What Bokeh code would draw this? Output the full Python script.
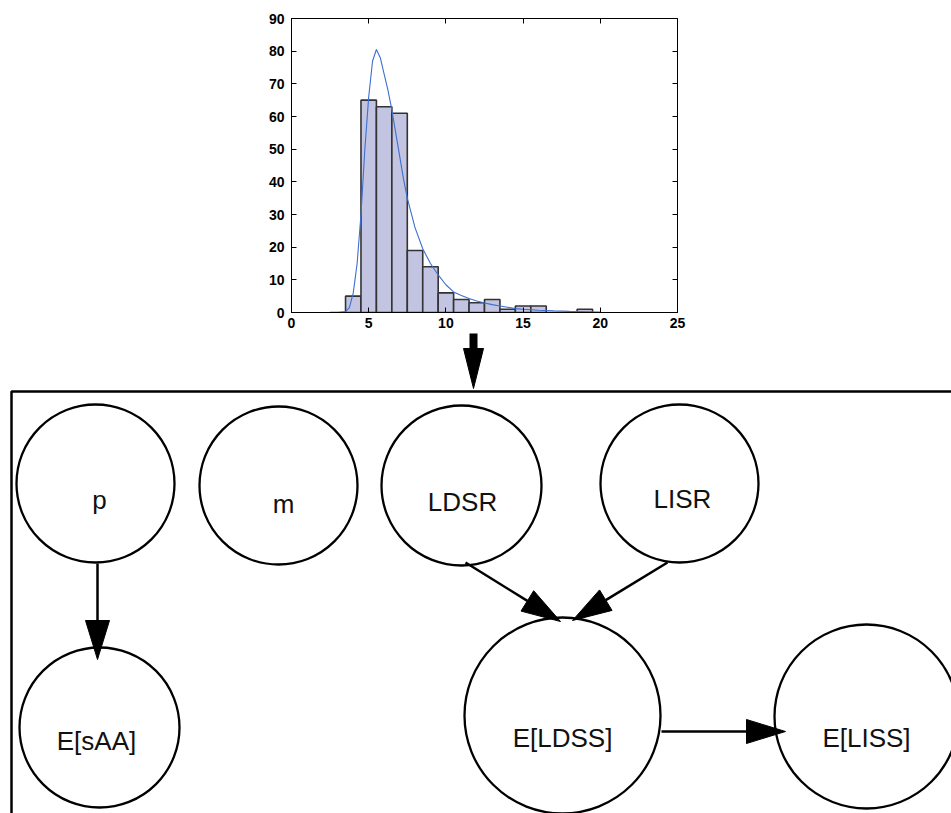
import math
from bokeh.plotting import figure
from bokeh.models import LinearAxis, Range1d, CustomJSTickFormatter
from bokeh.core.properties import value
from bokeh.embed import file_html
from bokeh.resources import INLINE

# ---------------- histogram data ----------------
bin_centers = [3, 4, 5, 6, 7, 8, 9, 10, 11, 12, 13, 14, 15, 16, 17, 18, 19]
bin_counts = [0, 5, 65, 63, 61, 19, 14, 6, 4, 3, 4, 1, 2, 2, 0, 0, 1]
bin_width = 1.0

fit_x = [2, 2.5, 3, 3.5, 3.75, 4, 4.25, 4.5, 4.75, 5, 5.25, 5.5, 5.75, 6, 6.25,
         6.5, 6.75, 7, 7.25, 7.5, 8, 8.5, 9, 9.5, 10, 10.5, 11, 11.5, 12, 12.5,
         13, 13.5, 14, 14.5, 15, 16, 17, 18, 19, 20]
fit_y = [0, 0, 0, 0.3, 1.5, 6, 15, 30, 50, 66, 77, 80.5, 78, 73, 68,
         62, 55, 48, 41, 35, 26, 19.5, 15, 11.5, 8.5, 6.3, 5.2, 4.3, 3.5, 2.9,
         2.4, 2.0, 1.6, 1.2, 1.0, 0.7, 0.5, 0.35, 0.25, 0.15]

x_ticks = [0, 5, 10, 15, 20, 25]
y_ticks = [0, 10, 20, 30, 40, 50, 60, 70, 80, 90]

# ---------------- diagram data ----------------
node_names = ["p", "m", "LDSR", "LISR", "E[sAA]", "E[LDSS]", "E[LISS]"]
node_x = [95, 278, 461, 679, 99, 562, 866]
node_y = [483, 485, 485, 483, 727, 715, 716]
node_r = [79, 79, 80, 79, 80, 98, 92]
label_x = [99, 283, 462, 682, 96, 562, 866]
label_y = [499, 503, 501, 498, 740, 737, 737]

edge_x0 = [97, 465, 667, 661]
edge_y0 = [563, 562, 562, 731]
edge_x1 = [97, 560, 572, 785]
edge_y1 = [659, 621, 620, 731]

feed_x = [473, 473]
feed_y = [333, 388]

frame_x = [11, 11, 960]
frame_y = [830, 391, 391]

# ---------------- histogram figure ----------------
hist = figure(width=951, height=332, x_range=Range1d(0, 25), y_range=Range1d(0, 90),
              output_backend="svg", toolbar_location=None,
              min_border_left=291, min_border_right=274,
              min_border_top=18, min_border_bottom=20)
hist.grid.visible = False
hist.outline_line_color = "black"
hist.background_fill_color = "white"
hist.border_fill_color = "white"

left = [c - bin_width / 2 for c in bin_centers]
right = [c + bin_width / 2 for c in bin_centers]
hist.quad(left=left, right=right, bottom=0, top=bin_counts,
          fill_color="#c3c3e2", line_color="#333333", line_width=1.6)
hist.line(fit_x, fit_y, line_color="#3d6fd0", line_width=1.1)

for ax in [hist.xaxis[0], hist.yaxis[0]]:
    ax.major_tick_in = 5
    ax.major_tick_out = 0
    ax.minor_tick_line_color = None
    ax.axis_line_color = "black"
    ax.major_label_text_font = "Liberation Sans"
    ax.major_label_text_font_style = "bold"
    ax.major_label_text_font_size = "14px"
    ax.major_label_text_color = "black"
hist.xaxis[0].ticker = x_ticks
hist.yaxis[0].ticker = y_ticks
hist.xaxis[0].major_label_standoff = 5
hist.yaxis[0].major_label_standoff = 7

blank = CustomJSTickFormatter(code="return ''")
top_axis = LinearAxis(ticker=x_ticks, major_tick_in=5, major_tick_out=0,
                      minor_tick_line_color=None, formatter=blank,
                      major_label_standoff=0)
right_axis = LinearAxis(ticker=y_ticks, major_tick_in=5, major_tick_out=0,
                        minor_tick_line_color=None, formatter=blank,
                        major_label_standoff=0)
hist.add_layout(top_axis, "above")
hist.add_layout(right_axis, "right")

# ---------------- diagram figure ----------------
diag = figure(width=951, height=481, x_range=Range1d(0, 951), y_range=Range1d(813, 332),
              output_backend="svg", toolbar_location=None,
              x_axis_location=None, y_axis_location=None, min_border=0)
diag.grid.visible = False
diag.outline_line_color = None
diag.background_fill_color = "white"
diag.border_fill_color = "white"

# plate frame
diag.line(frame_x, frame_y, line_color="black", line_width=2.5)


def head(x0, y0, x1, y1, length, half):
    dx, dy = x1 - x0, y1 - y0
    n = math.hypot(dx, dy)
    ux, uy = dx / n, dy / n
    bx, by = x1 - ux * length, y1 - uy * length
    px, py = -uy, ux
    return [x1, bx + px * half, bx - px * half], [y1, by + py * half, by - py * half], bx, by


# feed arrow from histogram into the model
hx, hy, bx, by = head(feed_x[0], feed_y[0], feed_x[1], feed_y[1], 40, 10)
diag.line([feed_x[0], bx], [feed_y[0], by + 1], line_color="black", line_width=8)
diag.patch(hx, hy, fill_color="black", line_color="black", line_width=1)

# node circles
diag.circle(x=node_x, y=node_y, radius=node_r, fill_color="white",
            line_color="black", line_width=2.3)

# edges
for x0, y0, x1, y1 in zip(edge_x0, edge_y0, edge_x1, edge_y1):
    hx, hy, bx, by = head(x0, y0, x1, y1, 39, 12)
    diag.line([x0, bx], [y0, by], line_color="black", line_width=2.5)
    diag.patch(hx, hy, fill_color="black", line_color="black", line_width=1)

diag.text(x=label_x, y=label_y, text=node_names, text_font=value("Liberation Sans"),
          text_font_size="26px", text_align="center", text_baseline="alphabetic",
          text_color="#111111")

open("out.html", "w").write(file_html([hist, diag], INLINE))
